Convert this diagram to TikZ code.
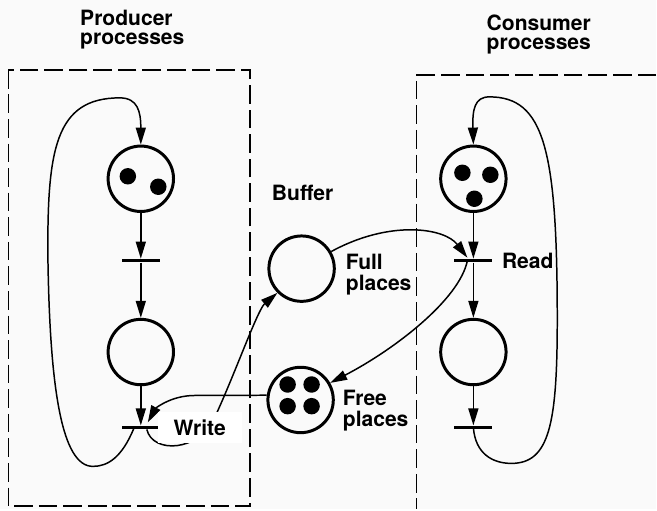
\documentclass[tikz,border=0pt]{standalone}
\usepackage{fontspec}
\setmainfont{TeX Gyre Heros}
\usetikzlibrary{arrows.meta,positioning}
\definecolor{bgPaper}{RGB}{250,250,250}

\begin{document}
\begin{tikzpicture}[
			x=0.02cm,y=-0.02cm,
			place/.style={
				draw,
				circle,
				line width=1.7pt,
				minimum size=1.31cm,
				inner sep=0pt
			},
			trans/.style={
				fill,
				rectangle,
				minimum width=0.76cm,
				minimum height=0.067cm,
				inner sep=0pt
			},
			tok/.style={radius=0.165cm},
			arr/.style={-{Triangle[length=3.4mm,width=2mm]},line width=0.85pt},
			grp/.style={dash pattern=on 10.6pt off 3.4pt,line width=1pt},
			lbl/.style={font=\bfseries\fontsize{12}{12.3}\selectfont,align=left,inner sep=0pt},
			title/.style={font=\bfseries\fontsize{12}{10.8}\selectfont,align=left,inner sep=0pt}
			]
			\fill[bgPaper] (0,0) rectangle (657,510);
			% process groups
			\draw[grp] (8.5,70) rectangle (250.5,507);
			\draw[grp] (657,75) -- (417,75) -- (417,510);
			\node[title,anchor=north west] (ptitle) at (80,10) {Producer\\processes};
			\node[title,anchor=north west] (ctitle) at (487,15) {Consumer\\processes};
			% producer
			\node[place] (pready) at (141,179) {};
			\node[trans] (tprod) at (141,261) {};
			\node[place] (pdone) at (141,352.5) {};
			\node[trans] (twrite) at (141,428) {};
			\foreach \dx/\dy in {-13/-2.5,17.5/8}
				\fill ([shift={(\dx,\dy)}]pready.center) circle[tok];
			\draw[arr] (pready) -- (tprod);
			\draw[arr] (tprod) -- (pdone);
			\draw[arr] (pdone) -- (twrite);
			\draw[arr] ([shift={(-7,1)}]twrite.center) .. controls (122,458) and (108,467) .. (93,467)
				.. controls (62,467) and (50,390) .. (48,260)
				.. controls (47,150) and (55,98) .. (120,98)
				.. controls (138,98) and (141,112) .. (pready.north);
			% buffer
			\node[lbl,anchor=north west] (buf) at (272,185) {Buffer};
			\node[place] (full) at (302,269) {};
			\node[place] (free) at (301,400.5) {};
			\foreach \dx/\dy in {-13/-15.5,11/-15.5,-13/6.2,11/6.2}
				\fill ([shift={(\dx,\dy)}]free.center) circle[tok];
			\node[lbl,anchor=north west] (fulltxt) at (346,254) {Full\\places};
			\node[lbl,anchor=north west] (freetxt) at (343,390) {Free\\places};
			% consumer
			\node[place] (cready) at (474,179) {};
			\node[trans] (tread) at (474,261) {};
			\node[place] (cdone) at (474,352.5) {};
			\node[trans] (tcons) at (474,428) {};
			\foreach \dx/\dy in {-11/-6,17/-4,1/20}
				\fill ([shift={(\dx,\dy)}]cready.center) circle[tok];
			\node[lbl,right=0.18cm of tread] (readtxt) {Read};
			\draw[arr] (cready) -- (tread);
			\draw[arr] (tread) -- (cdone);
			\draw[arr] (cdone) -- (tcons);
			\draw[arr] (tcons.center) .. controls (476,455) and (494,464) .. (512,464)
				.. controls (550,464) and (558,425) .. (558,320)
				.. controls (558,150) and (545,97) .. (490,97)
				.. controls (475,97) and (473,110) .. (cready.north);
			% buffer arcs
			\draw[arr] (full.30) .. controls (390,220) and (445,228) .. ([shift={(-6,-3)}]tread.center);
			\draw[arr] ([shift={(-6,0)}]tread.center) .. controls (460,300) and (395,350) .. (free.30);
			\draw[arr] (free.172) -- (195,396) .. controls (170,396) and (155,410) .. ([shift={(7,-5)}]twrite.center);
			\draw[arr] ([shift={(6,2)}]twrite.center) .. controls (153,455) and (200,452) .. (215,418)
				.. controls (235,375) and (258,310) .. (full.225);
			\node[lbl,fill=white,minimum width=1.68cm,minimum height=0.62cm,align=center] (writetxt) at (200,428) {Write};
		\end{tikzpicture}
\end{document}
